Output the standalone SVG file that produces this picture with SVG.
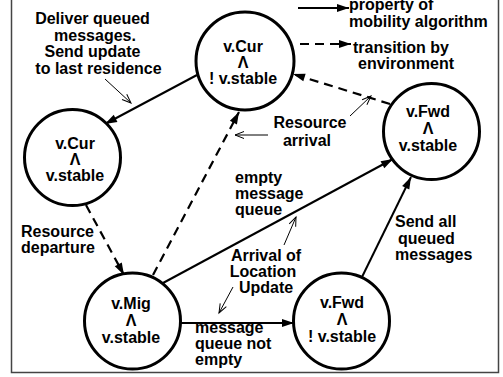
<svg xmlns="http://www.w3.org/2000/svg" width="503" height="377" viewBox="0 0 503 377">
<style>
text{font-family:"Liberation Sans",Arial,sans-serif;font-weight:bold;font-size:16px;fill:#000}
.c{text-anchor:middle}
.node{fill:#fff;stroke:#000;stroke-width:3}
.e{stroke:#000;stroke-width:2;fill:none}
.d{stroke:#000;stroke-width:2.2;fill:none;stroke-dasharray:9 6}
.a{stroke:#000;stroke-width:1;fill:none}
</style>
<defs>
<marker id="ah" markerUnits="userSpaceOnUse" markerWidth="13" markerHeight="9" refX="12" refY="4" orient="auto" overflow="visible">
<path d="M0,0 L12,4 L0,8 Z" fill="#000"/>
</marker>
<marker id="oh" markerUnits="userSpaceOnUse" markerWidth="10" markerHeight="8" refX="9" refY="3.5" orient="auto" overflow="visible">
<path d="M0,0 L9,3.5 L0,7" fill="none" stroke="#000" stroke-width="1"/>
</marker>
</defs>
<rect width="503" height="377" fill="#fff"/>
<path d="M11.5,0 V372.5 H498.5 V0" fill="none" stroke="#444" stroke-width="1.5"/>

<g id="connectors">
<path class="e" d="M197,75 L105,124" marker-end="url(#ah)"/>
<path class="d" d="M86,205 L124,275" marker-end="url(#ah)"/>
<path class="d" d="M153,275 L239,112" marker-end="url(#ah)"/>
<path class="d" d="M390,104 L293,74" marker-end="url(#ah)"/>
<path class="e" d="M163,283 L393,159" marker-end="url(#ah)"/>
<path class="e" d="M181,323 L294,323" marker-end="url(#ah)"/>
<path class="e" d="M362,277 L411,177" marker-end="url(#ah)"/>
<path class="a" d="M105,79 L131,103" marker-end="url(#oh)"/>
<path class="a" d="M350,116 L371,96" marker-end="url(#oh)"/>
<path class="a" d="M268,135 L235,135" marker-end="url(#oh)"/>
<path class="a" d="M284,245 L296,217" marker-end="url(#oh)"/>
<path class="a" d="M233,287 L219,313" marker-end="url(#oh)"/>
</g>

<g id="legend">
<path class="e" d="M298,8 L349,8" marker-end="url(#ah)"/>
<path class="d" d="M300,44 L351,44" marker-end="url(#ah)"/>
<text x="349" y="10">property of</text>
<text x="349" y="27">mobility algorithm</text>
<text x="353" y="53">transition by</text>
<text x="358" y="69">environment</text>
</g>

<g id="n-cur-unstable">
<circle class="node" cx="245" cy="61" r="49"/>
<text class="c" x="243" y="52">v.Cur</text>
<text class="c" x="243" y="68">Λ</text>
<text class="c" x="243" y="84">! v.stable</text>
</g>
<g id="n-cur-stable">
<circle class="node" cx="72.5" cy="157.5" r="48"/>
<text class="c" x="75" y="149">v.Cur</text>
<text class="c" x="75" y="165">Λ</text>
<text class="c" x="75" y="181">v.stable</text>
</g>
<g id="n-fwd-stable">
<circle class="node" cx="431.5" cy="131.5" r="48"/>
<text class="c" x="428" y="117">v.Fwd</text>
<text class="c" x="428" y="134">Λ</text>
<text class="c" x="428" y="151">v.stable</text>
</g>
<g id="n-mig-stable">
<circle class="node" cx="132.5" cy="321" r="48"/>
<text class="c" x="131" y="309">v.Mig</text>
<text class="c" x="131" y="326">Λ</text>
<text class="c" x="131" y="343">v.stable</text>
</g>
<g id="n-fwd-unstable">
<circle class="node" cx="341.5" cy="321" r="48"/>
<text class="c" x="342" y="308">v.Fwd</text>
<text class="c" x="342" y="325">Λ</text>
<text class="c" x="342" y="342">! v.stable</text>
</g>

<g id="labels">
<text class="c" x="92.5" y="24">Deliver queued</text>
<text class="c" x="95" y="40.5">messages.</text>
<text class="c" x="92.5" y="57">Send update</text>
<text class="c" x="98.5" y="74">to last residence</text>
<text class="c" x="310" y="128">Resource</text>
<text class="c" x="307" y="146">arrival</text>
<text x="235" y="183">empty</text>
<text x="235" y="199">message</text>
<text x="235" y="215">queue</text>
<text class="c" x="266" y="261">Arrival of</text>
<text class="c" x="263" y="277">Location</text>
<text class="c" x="266" y="293">Update</text>
<text x="195" y="333">message</text>
<text x="195" y="349">queue not</text>
<text x="195" y="365">empty</text>
<text x="395" y="227">Send all</text>
<text x="398" y="243.5">queued</text>
<text x="395" y="260">messages</text>
<text x="21" y="237">Resource</text>
<text x="21" y="253">departure</text>
</g>
</svg>
